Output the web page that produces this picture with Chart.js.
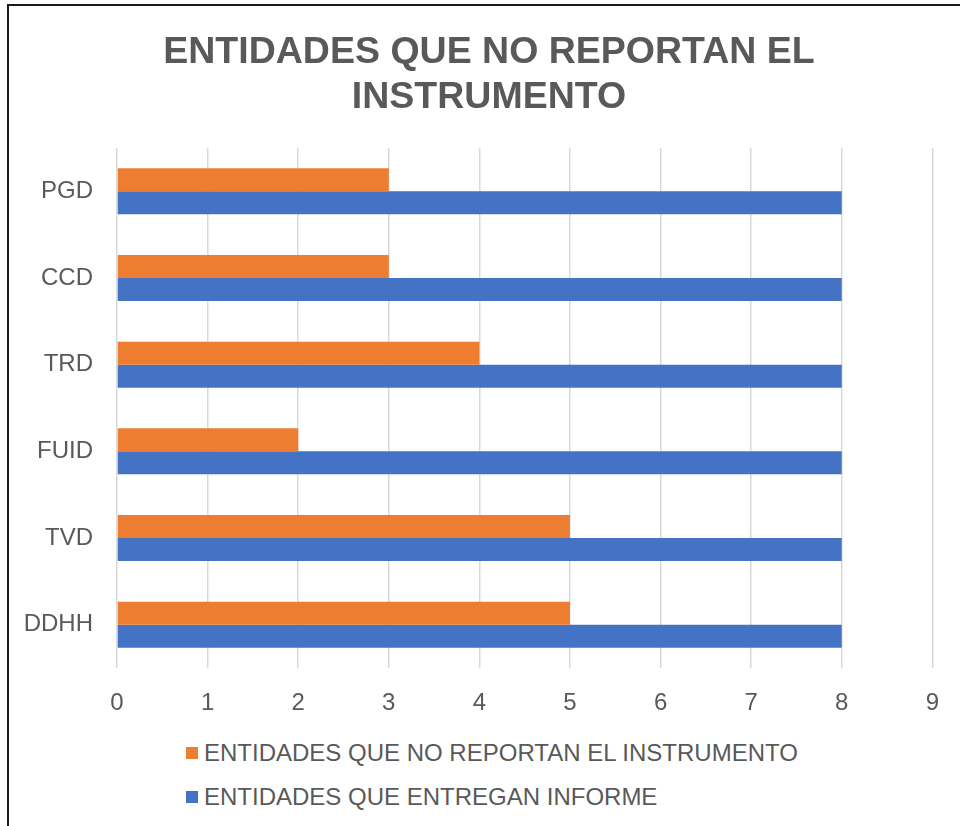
<!DOCTYPE html>
<html>
<head>
<meta charset="utf-8">
<script src="https://cdn.jsdelivr.net/npm/chart.js@4.4.1/dist/chart.umd.min.js"></script>
<style>
  body { margin: 0; width: 960px; height: 826px; overflow: hidden; background: #fff; font-family: "Liberation Sans", Arial, sans-serif; }
  #frame { position: absolute; left: 7px; top: 4px; width: 1000px; height: 900px; border-left: 2px solid #1a1a1a; border-top: 2px solid #1a1a1a; }
  #wrap { position: absolute; left: 0; top: 0; width: 960px; height: 730px; }
  #titulo { position: absolute; left: 89px; width: 800px; top: 28px; text-align: center; color: #595959; font-size: 37.5px; font-weight: bold; line-height: 45px; white-space: nowrap; }
  #legend { position: absolute; left: 186px; top: 733px; color: #595959; font-size: 24px; }
  #legend div { height: 44px; line-height: 40px; white-space: nowrap; }
  #legend span.box { display: inline-block; width: 12px; height: 12px; margin-right: 6px; vertical-align: 2px; }
</style>
</head>
<body>
<div id="frame"></div>
<div id="wrap"><canvas id="grafico"></canvas></div>
<div id="titulo"></div>
<div id="legend"></div>
<script>
// Datos del gráfico
const categorias = ['PGD', 'CCD', 'TRD', 'FUID', 'TVD', 'DDHH'];
const noReportan = [3, 3, 4, 2, 5, 5];
const entregan = [8, 8, 8, 8, 8, 8];
const nombres = ['ENTIDADES QUE NO REPORTAN EL INSTRUMENTO', 'ENTIDADES QUE ENTREGAN INFORME'];
const colores = ['#ED7D31', '#4472C4'];
const titulo = ['ENTIDADES QUE NO REPORTAN EL', 'INSTRUMENTO'];

const gris = '#595959';
const fuente = '"Liberation Sans", Arial, sans-serif';

// Título en dos líneas
document.getElementById('titulo').innerHTML = titulo.join('<br>');

const ctx = document.getElementById('grafico').getContext('2d');
const grafico = new Chart(ctx, {
    type: 'bar',
    data: {
        labels: categorias,
        datasets: [{
            label: nombres[0],
            data: noReportan,
            backgroundColor: colores[0]
        }, {
            label: nombres[1],
            data: entregan,
            backgroundColor: colores[1]
        }]
    },
    options: {
        indexAxis: 'y',
        responsive: true,
        maintainAspectRatio: false,
        animation: false,
        categoryPercentage: 0.53,
        barPercentage: 1,
        layout: { padding: { left: 0, right: 27, top: 148, bottom: 0 } },
        plugins: {
            legend: { display: false },
            tooltip: { enabled: false },
            title: { display: false }
        },
        scales: {
            x: {
                min: 0,
                max: 9,
                ticks: { stepSize: 1, color: gris, padding: 21, font: { family: fuente, size: 24 } },
                grid: { color: '#d9d9d9', lineWidth: 1.5, drawTicks: false },
                border: { display: false },
                afterFit: function(scale) { scale.height = 62; }
            },
            y: {
                ticks: { color: gris, padding: 24, font: { family: fuente, size: 24 } },
                grid: { display: false, drawTicks: false },
                border: { display: false },
                afterFit: function(scale) { scale.width = 117; }
            }
        }
    }
});

// Leyenda en HTML, una entrada por línea
const leyenda = document.getElementById('legend');
grafico.data.datasets.forEach(function(ds) {
    const fila = document.createElement('div');
    const caja = document.createElement('span');
    caja.className = 'box';
    caja.style.background = ds.backgroundColor;
    fila.appendChild(caja);
    fila.appendChild(document.createTextNode(ds.label));
    leyenda.appendChild(fila);
});
</script>
</body>
</html>
